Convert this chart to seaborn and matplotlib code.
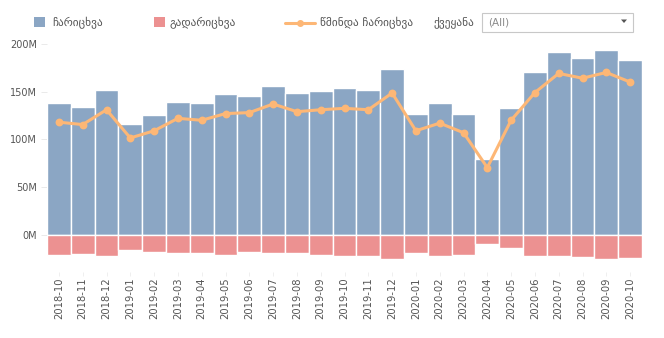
import matplotlib
matplotlib.use("Agg")
import matplotlib.pyplot as plt
import seaborn as sns
import pandas as pd
from matplotlib.patches import Rectangle, Polygon
from matplotlib.lines import Line2D

months = ["2018-10", "2018-11", "2018-12", "2019-01", "2019-02", "2019-03", "2019-04",
          "2019-05", "2019-06", "2019-07", "2019-08", "2019-09", "2019-10", "2019-11",
          "2019-12", "2020-01", "2020-02", "2020-03", "2020-04", "2020-05", "2020-06",
          "2020-07", "2020-08", "2020-09", "2020-10"]
inflows = [138, 134, 152, 116, 126, 139, 138, 147, 145, 156, 148, 151, 154, 152,
           174, 127, 138, 127, 80, 133, 171, 191, 185, 194, 183]
outflows = [-21, -20, -22, -16, -18, -19, -19, -21, -18, -19, -19, -21, -22, -22,
            -25, -19, -22, -21, -9.5, -13.5, -22, -22, -23, -25, -24]
net = [118, 115.5, 131, 101.5, 109, 122, 120, 127, 128, 137, 129, 131, 132.5, 131,
       148.5, 109, 117, 107, 70.5, 120, 149, 169, 164, 170, 160]
yticks = [0, 50, 100, 150, 200]
ytick_labels = ["0M", "50M", "100M", "150M", "200M"]

legend_labels = ["ჩარიცხვა", "გადარიცხვა", "წმინდა ჩარიცხვა"]
filter_label = "ქვეყანა"
filter_value = "(All)"

blue = "#8BA6C4"
pink = "#EC9191"
orange = "#FDB776"
txt = "#555555"

df = pd.DataFrame({"month": months, "in": inflows, "out": outflows, "net": net})

sns.set_style("white")
plt.rcParams["font.family"] = ["DejaVu Sans"]

fig = plt.figure(figsize=(6.64, 3.38), dpi=100)
ax = fig.add_axes([47 / 664, 1 - 272 / 338, (642 - 47) / 664, (272 - 39) / 338])

sns.barplot(data=df, x="month", y="in", color=blue, saturation=1, width=1,
            edgecolor="white", linewidth=1.0, ax=ax)
sns.barplot(data=df, x="month", y="out", color=pink, saturation=1, width=1,
            edgecolor="white", linewidth=1.0, ax=ax)
sns.pointplot(data=df, x="month", y="net", color=orange, markers="o",
              markersize=4, linewidth=2.2, ax=ax)

ax.set_xlim(-0.5, len(months) - 0.5)
ax.set_ylim(-38.7, 205)
ax.set_yticks(yticks)
ax.set_yticklabels(ytick_labels)
ax.set_xlabel("")
ax.set_ylabel("")
for s in ax.spines.values():
    s.set_visible(False)
ax.tick_params(axis="y", length=4, width=0.6, color="#E6E6E6", labelsize=7,
               labelcolor=txt, pad=3, left=True)
ax.tick_params(axis="x", length=3, width=0.6, color="#ECECEC", labelsize=7.2,
               labelcolor=txt, pad=1, bottom=True, labelrotation=90)
ax.grid(False)

# Legend
def fx(x):
    return x / 664

def fy(y):
    return 1 - y / 338

ty = 22.5
lfs = 8.2
fig.add_artist(Rectangle((fx(34), fy(27)), 11 / 664, 10 / 338, transform=fig.transFigure,
                         facecolor=blue, edgecolor="none"))
fig.text(fx(52), fy(ty), legend_labels[0], fontsize=lfs, color=txt, va="center")
fig.add_artist(Rectangle((fx(154), fy(27)), 11 / 664, 10 / 338, transform=fig.transFigure,
                         facecolor=pink, edgecolor="none"))
fig.text(fx(170), fy(ty), legend_labels[1], fontsize=lfs, color=txt, va="center")
fig.add_artist(Line2D([fx(285), fx(315)], [fy(23), fy(23)], transform=fig.transFigure,
                      color=orange, linewidth=2.2))
fig.add_artist(Line2D([fx(300)], [fy(23)], transform=fig.transFigure, color=orange,
                      marker="o", markersize=4))
fig.text(fx(320), fy(ty), legend_labels[2], fontsize=lfs, color=txt, va="center")
fig.text(fx(433), fy(ty), filter_label, fontsize=lfs, color=txt, va="center")

fig.add_artist(Rectangle((fx(482), fy(32)), 151 / 664, 19 / 338, transform=fig.transFigure,
                         facecolor="white", edgecolor="#C8C8C8", linewidth=0.8))
fig.text(fx(488), fy(22.5), filter_value, fontsize=7.5, color="#8A8A8A", va="center")
fig.add_artist(Polygon([[fx(621), fy(19.5)], [fx(627), fy(19.5)], [fx(624), fy(23)]],
                       closed=True, transform=fig.transFigure, facecolor="#555555",
                       edgecolor="none"))

fig.savefig("out.png", dpi=100)
